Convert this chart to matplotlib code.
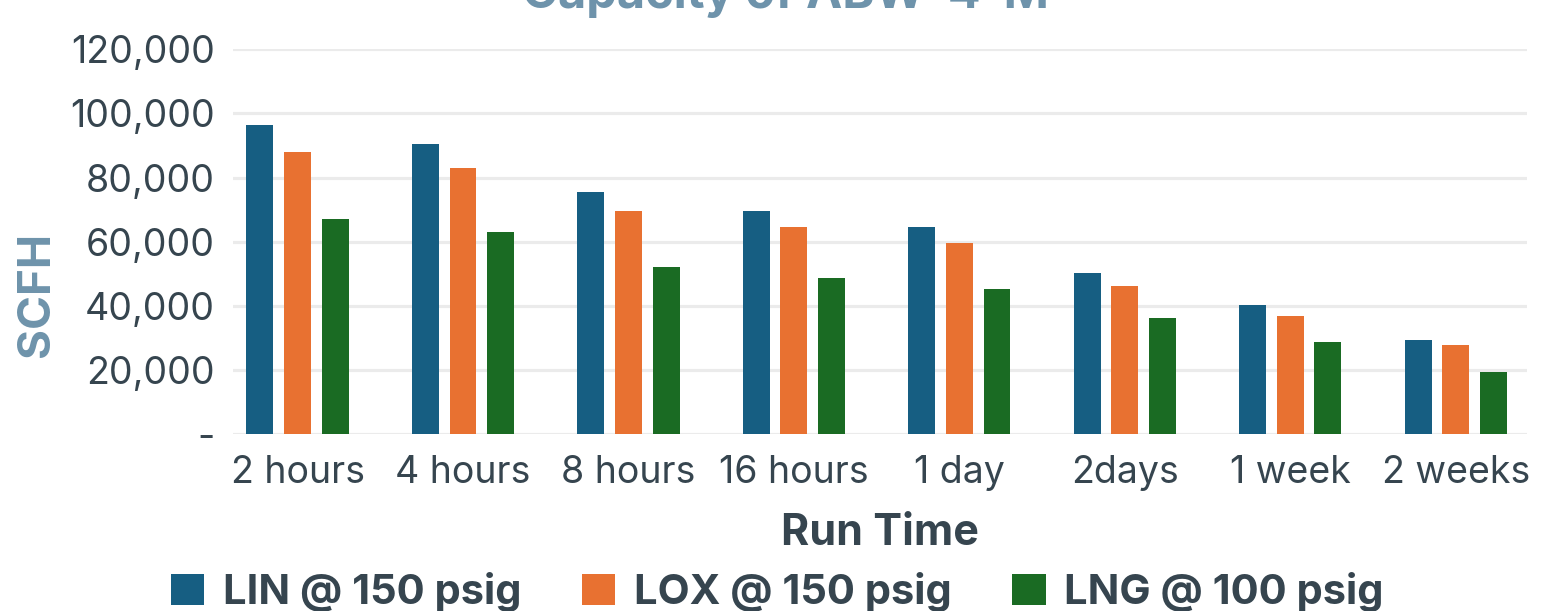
import matplotlib
matplotlib.use("Agg")
import matplotlib.pyplot as plt
import numpy as np
from matplotlib.ticker import FuncFormatter

plt.rcParams['font.family'] = ['Inter', 'DejaVu Sans']

# data
run_times = ['2 hours', '4 hours', '8 hours', '16 hours', '1 day', '2days', '1 week', '2 weeks']
lin = [96300, 90400, 75400, 69500, 64500, 50400, 40400, 29500]
lox = [87900, 82900, 69500, 64500, 59500, 46300, 37000, 27900]
lng = [67000, 62900, 52000, 48800, 45400, 36300, 28800, 19500]
series_names = ['LIN @ 150 psig', 'LOX @ 150 psig', 'LNG @ 100 psig']
colors = ['#165E82', '#E87131', '#1A6B23']

text_col = '#36454F'
title_col = '#6E93AB'

fig = plt.figure(figsize=(15.55, 6.11), dpi=100)
ax = fig.add_axes([233/1555, 176.7/611, (1527-233)/1555, 385/611])

x = np.arange(len(run_times))
w = 0.163
off = 0.227
for i, (vals, name, c) in enumerate(zip([lin, lox, lng], series_names, colors)):
    ax.bar(x + (i - 1) * off, vals, width=w, color=c, label=name, zorder=3)

ax.set_xlim(-0.39, 7.43)
ax.set_ylim(0, 120000)
ax.set_yticks(np.arange(0, 120001, 20000))
ax.yaxis.set_major_formatter(FuncFormatter(lambda v, p: '-' if v == 0 else f'{v:,.0f}'))
ax.set_xticks(x)
ax.set_xticklabels(run_times)
ax.grid(axis='y', color='#EBEBEB', linewidth=2.3, zorder=0)
for s in ax.spines.values():
    s.set_visible(False)
ax.tick_params(axis='both', length=0, labelsize=27, labelcolor=text_col)
ax.tick_params(axis='y', pad=13)
ax.tick_params(axis='x', pad=15)

ax.set_xlabel('Run Time', fontsize=31, fontweight='bold', color=text_col, labelpad=16)
fig.text(37/1555, 316.5/611, 'SCFH', rotation=90, fontsize=33, fontweight='bold',
         color=title_col, ha='center', va='center')

# title sits mostly above the visible area
fig.text(0.505, 603/611, 'Capacity of ABW-4-M', fontsize=35, fontweight='bold',
         color=title_col, ha='center', va='baseline')

fig.legend(loc='center', bbox_to_anchor=(0.5, 19/611), ncol=3, frameon=False,
           prop={'size': 30, 'weight': 'bold'}, labelcolor=text_col,
           handlelength=0.8, handleheight=0.8, handletextpad=0.45, columnspacing=1.45)

fig.savefig('out.png', dpi=100)
